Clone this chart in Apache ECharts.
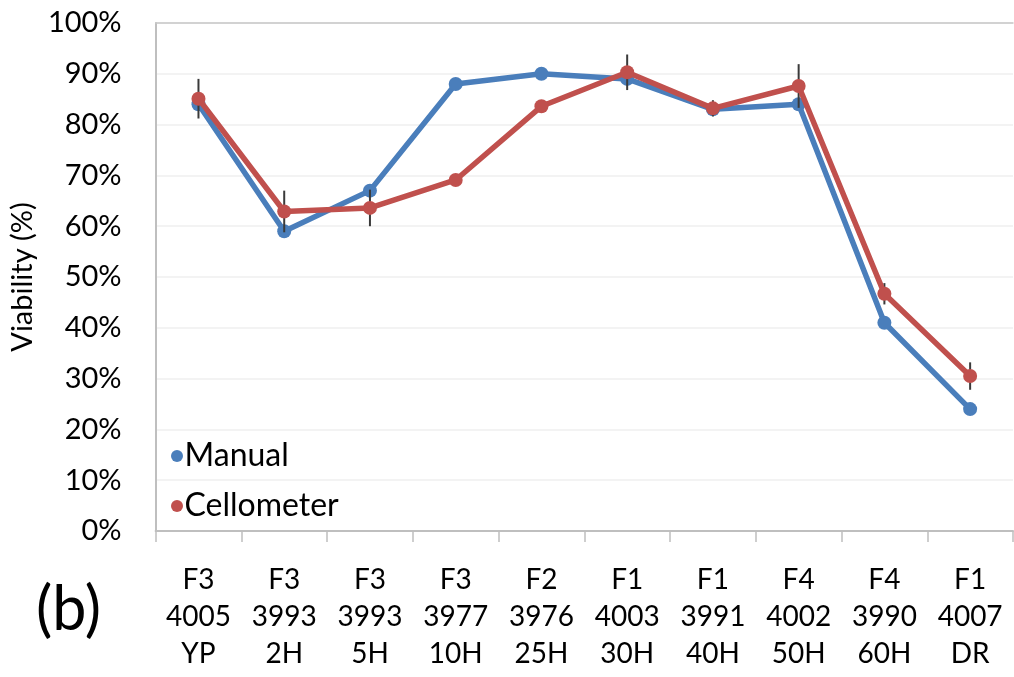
<!DOCTYPE html>
<html>
<head>
<meta charset="utf-8">
<script src="https://cdn.jsdelivr.net/npm/echarts@6/dist/echarts.min.js"></script>
<style>
html,body{margin:0;padding:0;background:#fff;}
#chart{width:1014px;height:677px;}
</style>
</head>
<body>
<div id="chart"></div>
<script>
const categories = ['F3\n4005\nYP','F3\n3993\n2H','F3\n3993\n5H','F3\n3977\n10H','F2\n3976\n25H','F1\n4003\n30H','F1\n3991\n40H','F4\n4002\n50H','F4\n3990\n60H','F1\n4007\nDR'];
const manual = [84, 59, 67, 88, 90, 89, 83, 84, 41, 24];
const cellometer = [85.1, 62.9, 63.6, 69.1, 83.6, 90.3, 83.2, 87.6, 46.7, 30.5];
const cellometerErr = [3.9, 4.1, 3.6, 0.4, 1.2, 3.5, 1.6, 4.3, 2.1, 2.7];
const yTicks = [0, 10, 20, 30, 40, 50, 60, 70, 80, 90, 100];

const FONT = 'Lato';
const chart = echarts.init(document.getElementById('chart'));
const errData = categories.map((c, i) => [i, cellometer[i] - cellometerErr[i], cellometer[i] + cellometerErr[i]]);

chart.setOption({
  animation: false,
  backgroundColor: '#fff',
  textStyle: { fontFamily: FONT },
  grid: { left: 155, right: 1, top: 23, bottom: 146, containLabel: false },
  graphic: [{
    type: 'text', left: 36, top: 580,
    style: { text: '(b)', font: '61px ' + FONT, fill: '#000' }
  }],
  legend: {
    orient: 'vertical', left: 166, top: 435, itemGap: 18,
    icon: 'circle', itemWidth: 13, itemHeight: 12,
    data: ['Manual', 'Cellometer'],
    textStyle: { fontSize: 32, color: '#000', fontFamily: FONT, padding: [0, 0, 0, -4] }
  },
  xAxis: [{
    type: 'category', data: categories, boundaryGap: true,
    axisLine: { show: true, lineStyle: { color: '#bfbfbf', width: 2 } },
    axisTick: { show: true, length: 11, inside: false, lineStyle: { color: '#bfbfbf', width: 1.5 } },
    axisLabel: { fontSize: 28, color: '#000', lineHeight: 37, margin: 30, fontFamily: FONT, interval: 0 },
    splitLine: { show: false }
  }, {
    type: 'category', data: categories, position: 'top',
    axisLine: { show: true, lineStyle: { color: '#c8c8c8', width: 1.5 } },
    axisTick: { show: false }, axisLabel: { show: false }, splitLine: { show: false }
  }],
  yAxis: {
    type: 'value', min: yTicks[0], max: yTicks[yTicks.length - 1], interval: 10,
    name: 'Viability (%)', nameLocation: 'middle', nameGap: 114, nameRotate: 90,
    nameTextStyle: { fontSize: 29, color: '#000', fontFamily: FONT },
    axisLine: { show: true, lineStyle: { color: '#bfbfbf', width: 2 } },
    axisTick: { show: false },
    axisLabel: { fontSize: 29, color: '#000', margin: 34, fontFamily: FONT, formatter: v => v + '%' },
    splitLine: { show: true, lineStyle: { color: '#efefef', width: 1.5 } }
  },
  series: [{
    name: 'Manual', type: 'line', data: manual,
    symbol: 'circle', symbolSize: 14, z: 3,
    itemStyle: { color: '#4A7EBB' },
    lineStyle: { color: '#4A7EBB', width: 5.5 }
  }, {
    name: 'errorbars', type: 'custom', z: 3.5,
    data: errData,
    renderItem: function (params, api) {
      const x = api.value(0);
      const lo = api.coord([x, api.value(1)]);
      const hi = api.coord([x, api.value(2)]);
      return {
        type: 'line',
        shape: { x1: lo[0], y1: lo[1], x2: hi[0], y2: hi[1] },
        style: { stroke: '#3a3a3a', lineWidth: 2 }
      };
    },
    silent: true
  }, {
    name: 'Cellometer', type: 'line', data: cellometer,
    symbol: 'circle', symbolSize: 14, z: 4,
    itemStyle: { color: '#C0504D' },
    lineStyle: { color: '#C0504D', width: 5.5 }
  }]
});
</script>
</body>
</html>
